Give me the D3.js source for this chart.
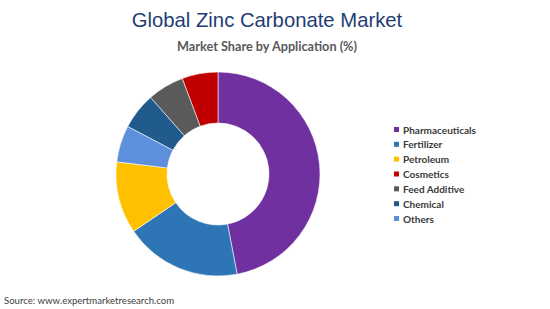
<!DOCTYPE html>
<html>
<head>
<meta charset="utf-8">
<script src="https://cdn.jsdelivr.net/npm/d3@7"></script>
<style>
  body { margin: 0; background: #fff; }
  svg { display: block; }
</style>
</head>
<body>
<div id="chart"></div>
<script>
// legend order
const categories = ["Pharmaceuticals", "Fertilizer", "Petroleum", "Cosmetics", "Feed Additive", "Chemical", "Others"];
const shares = [47, 18.5, 11.4, 5.7, 5.8, 5.8, 5.8];
const colors = ["#7030a0", "#2e75b6", "#ffc000", "#c00000", "#5a5a5a", "#215a8c", "#5e8fdc"];
// order of the slices going clockwise from 12 o'clock
const sliceOrder = ["Pharmaceuticals", "Fertilizer", "Petroleum", "Others", "Chemical", "Feed Additive", "Cosmetics"];

const width = 550;
const height = 309;

const svg = d3.select("#chart")
    .append("svg")
    .attr("width", width)
    .attr("height", height);

const data = categories.map((c, i) => ({ name: c, value: shares[i], color: colors[i] }));

svg.append("text")
    .attr("x", 267)
    .attr("y", 27)
    .attr("text-anchor", "middle")
    .attr("fill", "#1f3d74")
    .attr("font-family", "Liberation Sans, Arial, sans-serif")
    .attr("font-size", "20.3px")
    .text("Global Zinc Carbonate Market");

svg.append("text")
    .attr("x", 267)
    .attr("y", 51)
    .attr("text-anchor", "middle")
    .attr("fill", "#595959")
    .attr("font-family", "Lato, sans-serif")
    .attr("font-weight", 700)
    .attr("font-size", "12.7px")
    .text("Market Share by Application (%)");

const cx = 218, cy = 174;
const outerR = 102, innerR = 51;

const pie = d3.pie()
    .value(d => d.value)
    .sort((a, b) => sliceOrder.indexOf(a.name) - sliceOrder.indexOf(b.name));

const arc = d3.arc()
    .innerRadius(innerR)
    .outerRadius(outerR);

const g = svg.append("g")
    .attr("transform", `translate(${cx},${cy})`);

g.selectAll("path")
    .data(pie(data))
    .join("path")
    .attr("d", arc)
    .attr("fill", d => d.data.color)
    .attr("stroke", "#ffffff")
    .attr("stroke-opacity", 0.7)
    .attr("stroke-width", 0.8);

// legend
const legendY = d3.scalePoint()
    .domain(categories)
    .range([130, 219]);

const legend = svg.append("g");

const items = legend.selectAll("g")
    .data(data)
    .join("g")
    .attr("transform", d => `translate(394,${legendY(d.name)})`);

items.append("rect")
    .attr("x", 0)
    .attr("y", -3)
    .attr("width", 5)
    .attr("height", 5)
    .attr("fill", d => d.color);

items.append("text")
    .attr("x", 9)
    .attr("y", 3.5)
    .attr("fill", "#3a3a3a")
    .attr("font-family", "Lato, sans-serif")
    .attr("font-weight", 700)
    .attr("font-size", "10px")
    .text(d => d.name);

svg.append("text")
    .attr("x", 4)
    .attr("y", 304)
    .attr("fill", "#404040")
    .attr("font-family", "Lato, sans-serif")
    .attr("font-size", "9.6px")
    .text("Source: www.expertmarketresearch.com");
</script>
</body>
</html>
